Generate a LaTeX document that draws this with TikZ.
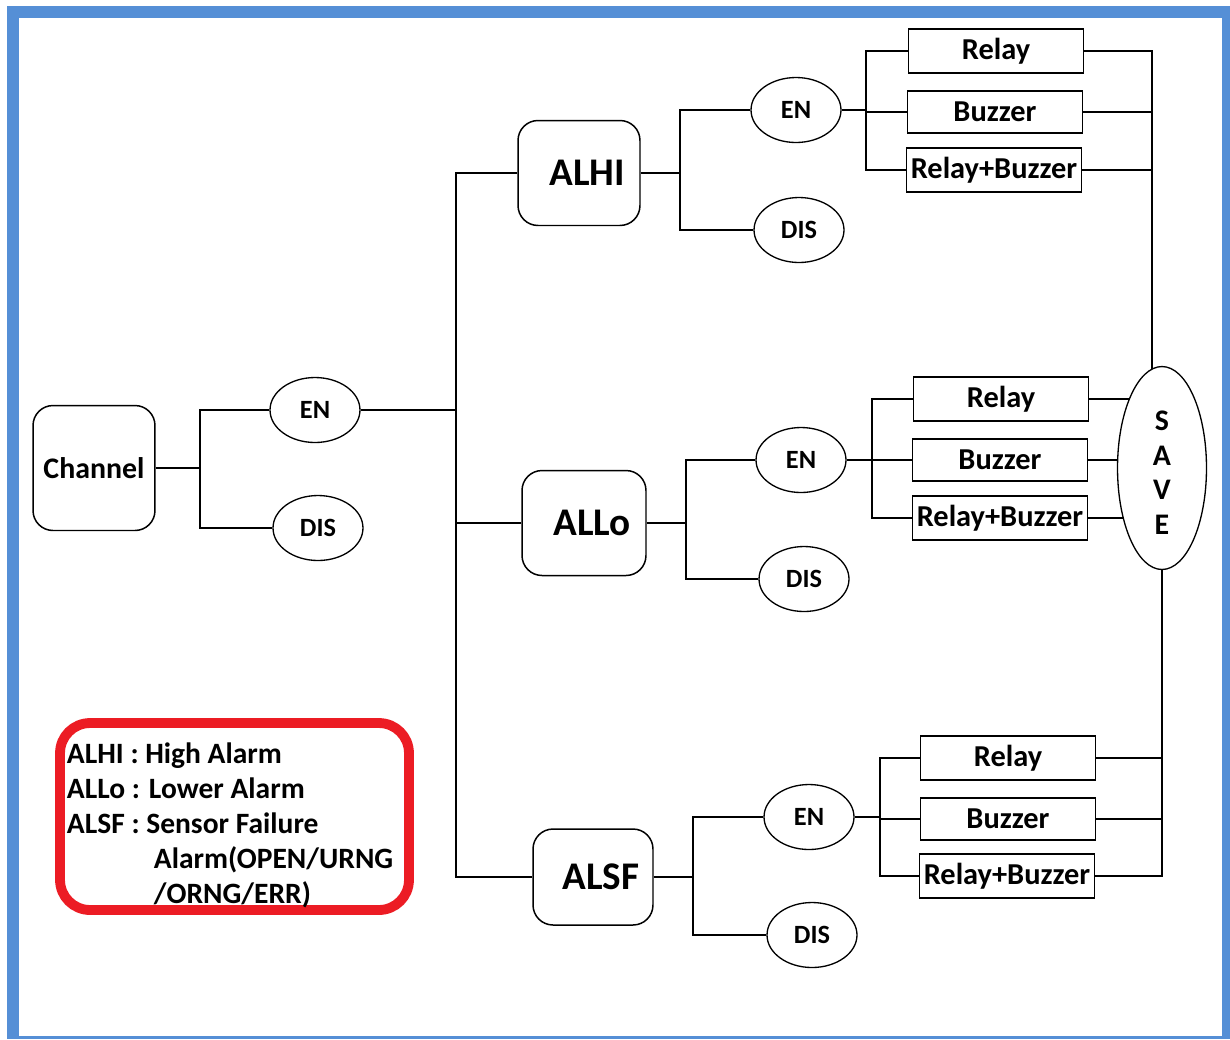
\documentclass[tikz,border=0pt]{standalone}
\usepackage{fontspec}
\setmainfont{Carlito}
\usetikzlibrary{shapes.geometric}
\definecolor{frameblue}{HTML}{558FD6}
\definecolor{legendred}{HTML}{EC1C24}

\begin{document}
\begin{tikzpicture}[x=0.02cm, y=-0.02cm, line width=1.1pt,
  rbox/.style={draw, rounded corners=0.4cm, line width=0.85pt, inner sep=0pt},
  alarm/.style={rbox, minimum width=2.44cm, minimum height=2.1cm, font=\fontsize{22.3}{26}\selectfont\bfseries},
  oval/.style={draw, ellipse, line width=0.75pt, inner sep=0pt, minimum width=1.8cm, minimum height=1.3cm, font=\fontsize{15}{18}\selectfont\bfseries},
  outbox/.style={draw, rectangle, line width=1.1pt, inner sep=0pt, minimum width=3.5cm, minimum height=0.88cm, font=\fontsize{17.3}{20}\selectfont\bfseries}]

  % frame
  \useasboundingbox (0,0) rectangle (1230,1039);
  \fill[frameblue] (7,6) rectangle (1230,1039);
  \fill[white] (19,18) rectangle (1222,1036);

  % channel
  \node[rbox, minimum width=2.44cm, minimum height=2.5cm, font=\fontsize{17}{20}\selectfont\bfseries] (ch) at (94,468) {Channel};
  \node[oval] (en) at (315,410) {EN};
  \node[oval] (dis) at (318,528) {DIS};

  \coordinate (b0) at (200,468);
  \draw (ch.east) -- (b0);
  \draw (en.west) -| (b0) |- (dis.west);

  % alarms
  \node[alarm] (alhi) at (579,173) {\hspace*{0.32cm}ALHI};
  \node[alarm, minimum width=2.48cm] (allo) at (584,523) {\hspace*{0.32cm}ALLo};
  \node[alarm, minimum width=2.4cm, minimum height=1.92cm] (alsf) at (593,877) {\hspace*{0.32cm}ALSF};

  \coordinate (b1) at (456,410);
  \draw (en.east) -- (b1);
  \draw (alhi.west) -| (b1) |- (alsf.west);
  \draw (b1 |- allo) -- (allo.west);

  % ALHI branch
  \node[oval] (hen) at (796,110) {EN};
  \node[oval] (hdis) at (799,230) {DIS};
  \node[outbox] (hrel) at (996,51) {Relay};
  \node[outbox, minimum height=0.84cm] (hbuz) at (995,112) {Buzzer};
  \node[outbox] (hrb) at (994,170) {Relay+Buzzer};

  \coordinate (h1) at (680,173);
  \coordinate (h2) at (866,110);
  \draw (alhi.east) -- (h1);
  \draw (hen.west) -| (h1) |- (hdis.west);
  \draw (hen.east) -- (h2);
  \draw (hrel.west) -| (h2) |- (hrb.west);
  \draw (h2 |- hbuz) -- (hbuz.west);

  % ALLo branch
  \node[oval] (men) at (801,460) {EN};
  \node[oval] (mdis) at (804,579) {DIS};
  \node[outbox] (mrel) at (1001,399) {Relay};
  \node[outbox, minimum height=0.84cm] (mbuz) at (1000,460) {Buzzer};
  \node[outbox] (mrb) at (1000,518) {Relay+Buzzer};

  \coordinate (m1) at (686,523);
  \coordinate (m2) at (872,460);
  \draw (allo.east) -- (m1);
  \draw (men.west) -| (m1) |- (mdis.west);
  \draw (men.east) -- (m2);
  \draw (mrel.west) -| (m2) |- (mrb.west);
  \draw (m2 |- mbuz) -- (mbuz.west);

  % ALSF branch
  \node[oval] (len) at (809,817) {EN};
  \node[oval] (ldis) at (812,935) {DIS};
  \node[outbox] (lrel) at (1008,758) {Relay};
  \node[outbox, minimum height=0.84cm] (lbuz) at (1008,819) {Buzzer};
  \node[outbox] (lrb) at (1007,876) {Relay+Buzzer};

  \coordinate (l1) at (693,877);
  \coordinate (l2) at (880,817);
  \draw (alsf.east) -- (l1);
  \draw (len.west) -| (l1) |- (ldis.west);
  \draw (len.east) -- (l2);
  \draw (lrel.west) -| (l2) |- (lrb.west);
  \draw (l2 |- lbuz) -- (lbuz.west);

  % save
  \node[draw, ellipse, line width=0.75pt, inner sep=0pt, minimum width=1.78cm, minimum height=4.06cm,
    align=center, font=\fontsize{17}{19.85}\selectfont\bfseries] (save) at (1162,468) {\rule{0pt}{16.5pt}S\\A\\V\\E};

  \draw (hrel.east) -| (save.96);
  \draw (hbuz.east) -- (hbuz.east -| save.96);
  \draw (hrb.east) -- (hrb.east -| save.96);

  \draw (mrel.east) -- (mrel.east -| save.115);
  \draw (mbuz.east) -- (mbuz.east -| save.169);
  \draw (mrb.east) -- (mrb.east -| save.232);

  \draw (save.south) |- (lrb.east);
  \draw (lrel.east) -- (lrel.east -| save.south);
  \draw (lbuz.east) -- (lbuz.east -| save.south);

  % legend
  \node[draw=legendred, line width=5.6pt, rounded corners=0.6cm, minimum width=6.98cm, minimum height=3.74cm] (legend) at (234.5,816.5) {};
  \node[anchor=north west, align=left, inner sep=0pt, font=\fontsize{16.8}{19.85}\selectfont\bfseries] (legtext) at (66,742)
    {ALHI : High Alarm\\ALLo : Lower Alarm\\ALSF : Sensor Failure\\\hspace*{1.74cm}Alarm(OPEN/URNG\\\hspace*{1.74cm}/ORNG/ERR)};

\end{tikzpicture}
\end{document}
